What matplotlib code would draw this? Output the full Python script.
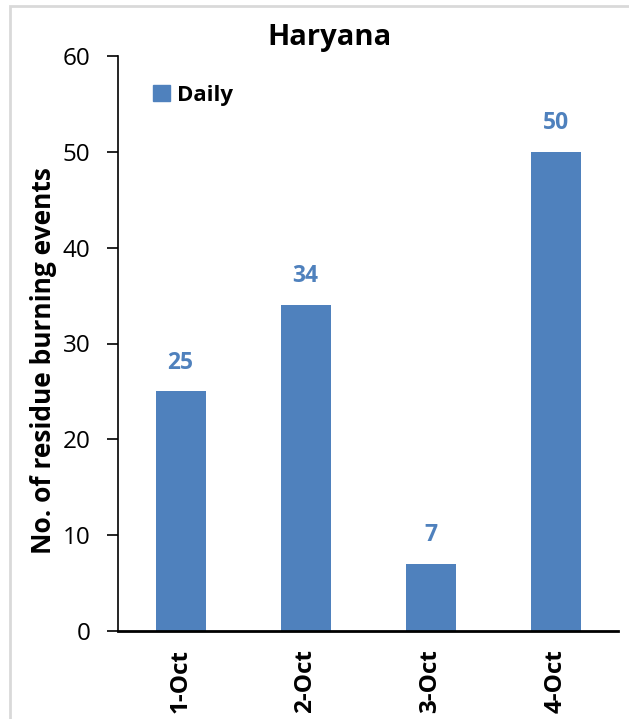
import matplotlib
matplotlib.use("Agg")
import matplotlib.pyplot as plt
from matplotlib.patches import Rectangle, Patch

categories = ["1-Oct", "2-Oct", "3-Oct", "4-Oct"]
values = [25, 34, 7, 50]
yticks = [0, 10, 20, 30, 40, 50, 60]

plt.rcParams['font.family'] = ['Open Sans', 'DejaVu Sans']
blue = "#4F81BD"

fig = plt.figure(figsize=(6.29, 7.19), dpi=100)
fig.patches.append(Rectangle((10/629, -0.1), 1.2, 1 - 6/719 + 0.1, transform=fig.transFigure,
                             fill=False, edgecolor="#d9d9d9", linewidth=2))
ax = fig.add_axes([118/629, 1 - 631/719, 500/629, 575/719])
x = range(len(categories))
bars = ax.bar(x, values, width=0.4, color=blue, label="Daily")
ax.set_xlim(-0.5, 3.5)
ax.set_ylim(0, 60)
ax.set_yticks(yticks)
ax.set_xticks(list(x))
ax.set_xticklabels(categories, rotation=90, fontweight="bold", fontsize=17.5)
ax.tick_params(axis='x', length=0, pad=13)
ax.tick_params(axis='y', length=8, width=1.2, labelsize=17.5, pad=12, direction='out')
for s in ["top", "right"]:
    ax.spines[s].set_visible(False)
ax.spines["left"].set_linewidth(1.2)
ax.spines["bottom"].set_linewidth(2)
for xi, v in zip(x, values):
    ax.annotate(str(v), (xi, v), xytext=(0, 12), textcoords="offset points",
                ha="center", va="bottom", color=blue, fontweight="bold", fontsize=16.5)
ax.set_ylabel("No. of residue burning events", fontweight="bold", fontsize=19)
ax.yaxis.set_label_coords(-0.122, 0.47)
fig.text(330/629, 1 - 38/719, "Haryana", ha="center", va="center", fontweight="bold", fontsize=21)
ax.legend(handles=[Patch(color=blue, label="Daily")], loc="upper left",
          bbox_to_anchor=(0.03, 0.985), frameon=False, handlelength=0.75, handleheight=0.75,
          handletextpad=0.35, prop={'weight': 'bold', 'size': 16})
fig.savefig("out.png", dpi=100)
